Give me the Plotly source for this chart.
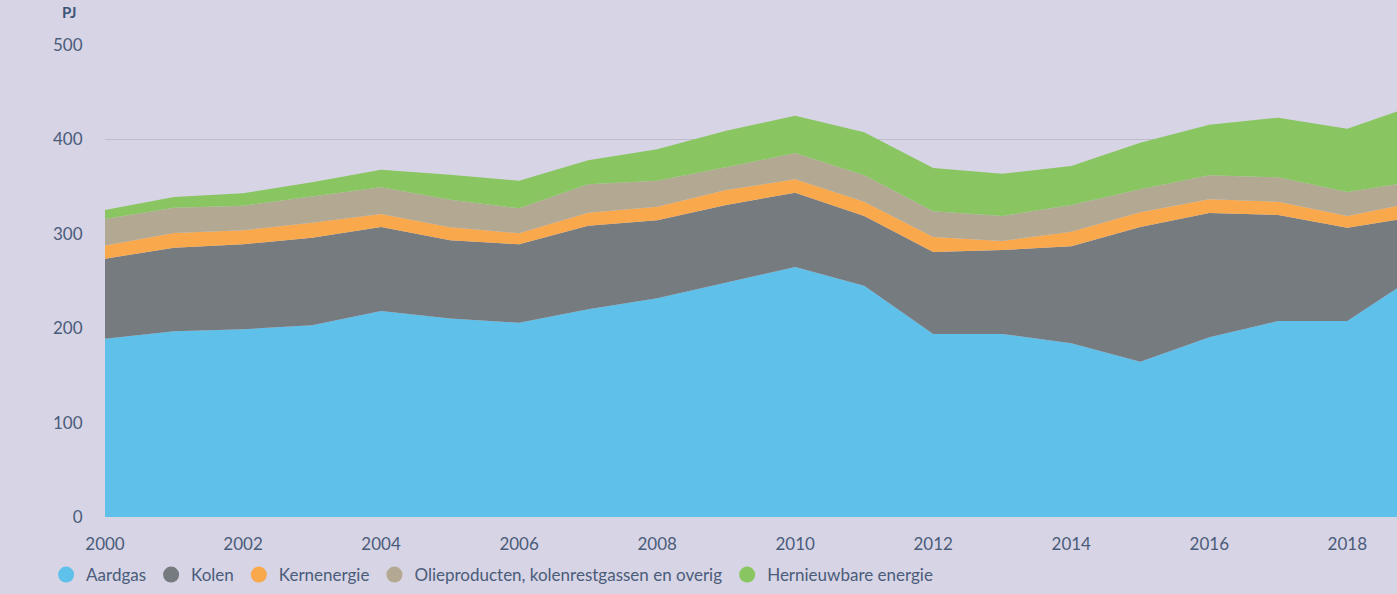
import plotly.graph_objects as go

years = list(range(2000, 2020))
aardgas = [188.7, 196.7, 199, 203, 218.3, 210.3, 205.8, 220, 231.7, 248.2, 264.8, 245, 193.9, 193.9, 184, 164.5, 190.3, 207.6, 207.6, 256]
kolen = [84.9, 88.6, 90, 92.7, 89, 82.9, 83, 88.6, 82.6, 82.3, 78.8, 73.9, 86.8, 88.9, 102.7, 142.7, 131.7, 112.4, 98.9, 62]
kernenergie = [14, 15.6, 14.7, 16, 13.7, 13.8, 11.7, 13.8, 14.4, 15.9, 14.1, 15.1, 15.8, 9.6, 15.5, 15.6, 14.5, 14, 12.4, 15.7]
olie = [28, 26.8, 26, 28, 28.4, 29, 26.5, 30, 27.6, 24, 27.9, 28, 27.5, 26.5, 28.3, 24.3, 25.5, 25.8, 25.4, 22]
hernieuwbaar = [9.6, 11.3, 13.3, 14.9, 18.4, 26.5, 29.3, 25.5, 33.2, 38.8, 39.4, 45.5, 45.7, 44.8, 41.3, 49.4, 53.6, 63.2, 67.1, 81]

names = ["Aardgas", "Kolen", "Kernenergie", "Olieproducten, kolenrestgassen en overig", "Hernieuwbare energie"]
series = [aardgas, kolen, kernenergie, olie, hernieuwbaar]
colors = ["#5fc0ea", "#767b7f", "#f9a94b", "#b3a993", "#89c561"]

x_ticks = [2000, 2002, 2004, 2006, 2008, 2010, 2012, 2014, 2016, 2018]
y_ticks = [0, 100, 200, 300, 400, 500]

text_color = "#4a5c7a"
bg = "#d7d4e5"
font_family = "Lato, 'Open Sans', sans-serif"

fig = go.Figure()
for name, vals, col in zip(names, series, colors):
    fig.add_trace(go.Scatter(
        x=years, y=vals, name=name, stackgroup="one", mode="lines",
        line=dict(width=0, color=col), fillcolor=col, showlegend=False,
        hoverinfo="x+y+name",
    ))
for name, col in zip(names, colors):
    fig.add_trace(go.Scatter(
        x=[None], y=[None], name=name, mode="markers",
        marker=dict(symbol="circle", size=16, color=col), showlegend=True,
    ))

fig.update_layout(
    width=1397, height=594,
    paper_bgcolor=bg, plot_bgcolor=bg,
    margin=dict(l=104.5, r=0, t=45, b=77),
    font=dict(family=font_family, size=17, color=text_color),
    xaxis=dict(
        range=[2000, 2018.72], tickvals=x_ticks, showgrid=False, zeroline=False,
        showline=False, ticks="outside", ticklen=12, tickcolor="rgba(0,0,0,0)",
        tickfont=dict(size=17, color=text_color),
    ),
    yaxis=dict(
        range=[0, 500], tickvals=y_ticks, showgrid=True, gridcolor="#bfbdcb",
        gridwidth=1, zeroline=False, showline=False, ticks="outside", ticklen=18,
        tickcolor="rgba(0,0,0,0)", tickfont=dict(size=17, color=text_color),
    ),
    legend=dict(
        orientation="h", xref="container", yref="container", traceorder="normal",
        x=0.033, y=0.032, xanchor="left", yanchor="middle",
        font=dict(size=17, color=text_color), bgcolor="rgba(0,0,0,0)",
        itemsizing="trace",
    ),
    annotations=[dict(
        text="<b>PJ</b>", xref="paper", yref="paper", x=-0.035, y=1.07,
        xanchor="left", yanchor="middle", showarrow=False,
        font=dict(size=15, color="#3e5475"),
    )],
)

fig.write_html(
    "out.html",
    config={"displayModeBar": False},
    post_script="document.body.style.margin='0';document.body.style.background='%s';" % bg,
)
